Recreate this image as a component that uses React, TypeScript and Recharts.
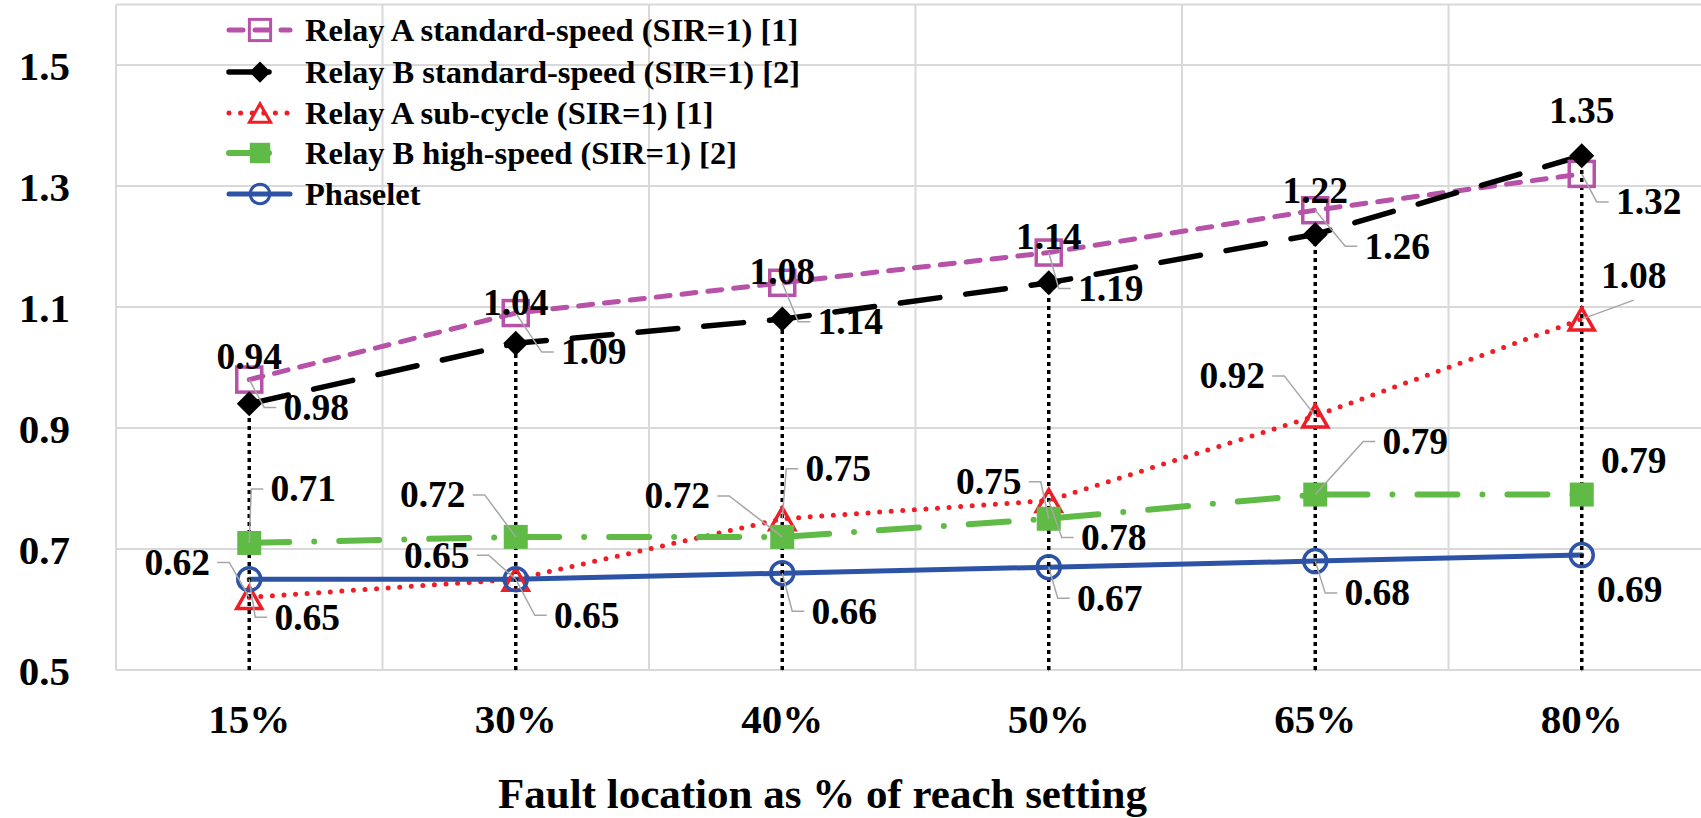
import React from "react";
import {
  CartesianGrid,
  ErrorBar,
  LabelList,
  Legend,
  Line,
  LineChart,
  XAxis,
  YAxis,
} from "recharts";

const categories = ["15%", "30%", "40%", "50%", "65%", "80%"];
const relayAStandard = [0.98, 1.09, 1.14, 1.19, 1.26, 1.32];
const relayBStandard = [0.94, 1.04, 1.08, 1.14, 1.22, 1.35];
const relayASubCycle = [0.62, 0.65, 0.75, 0.78, 0.92, 1.08];
const relayBHighSpeed = [0.71, 0.72, 0.72, 0.75, 0.79, 0.79];
const phaselet = [0.65, 0.65, 0.66, 0.67, 0.68, 0.69];
const yTicks = [0.5, 0.7, 0.9, 1.1, 1.3, 1.5];
const yMin = 0.5;
const yMax = 1.6;
const xTitle = "Fault location as % of reach setting";

// label placement: [dx, dy, leader] relative to the point ('s' = side leader, 'u' = leader under label)
type Off = [number, number, string];
const aStdLabels: Off[] = [[67, 28, "s"], [78, 39, "s"], [68, 39, "s"], [62, 36, "s"], [82, 36, "s"], [67, 28, "s"]];
const bStdLabels: Off[] = [[0, -47, ""], [0, -41, ""], [0, -47, ""], [0, -46, ""], [0, -44, ""], [0, -45, ""]];
const aSubLabels: Off[] = [[-72, -35, "s"], [-79, -24, "s"], [56, -50, "s"], [65, 37, "s"], [-83, -40, "s"], [52, -43, "u"]];
const bHighLabels: Off[] = [[54, -54, "s"], [-83, -42, "s"], [-105, -41, "s"], [-60, -37, "s"], [100, -53, "s"], [52, -34, ""]];
const phaseletLabels: Off[] = [[58, 38, "s"], [71, 36, "s"], [62, 38, "s"], [61, 31, "s"], [62, 32, "s"], [48, 35, ""]];

const FONT = '"Liberation Serif", "Times New Roman", serif';

const data = categories.map((c, i) => ({
  pos: i + 0.5,
  category: c,
  aStd: relayAStandard[i],
  bStd: relayBStandard[i],
  aSub: relayASubCycle[i],
  bHigh: relayBHighSpeed[i],
  phaselet: phaselet[i],
  drop: [relayBStandard[i] - yMin, 0],
}));

const series = {
  aStd: { name: "Relay A standard-speed (SIR=1) [1]", color: "#B652A7", width: 5, dash: "14 12", marker: "square", labels: aStdLabels },
  bStd: { name: "Relay B standard-speed (SIR=1) [2]", color: "#000000", width: 5.5, dash: "40 26", marker: "diamond", labels: bStdLabels },
  aSub: { name: "Relay A sub-cycle (SIR=1) [1]", color: "#EE1D26", width: 5, dash: "0 11.6", marker: "triangle", labels: aSubLabels },
  bHigh: { name: "Relay B high-speed (SIR=1) [2]", color: "#5FBA46", width: 6, dash: "40 25 0 25", marker: "filledSquare", labels: bHighLabels },
  phaselet: { name: "Phaselet", color: "#2C53A5", width: 5, dash: undefined, marker: "circle", labels: phaseletLabels },
};
const legendOrder = ["aStd", "bStd", "aSub", "bHigh", "phaselet"] as const;
const drawOrder = ["aStd", "aSub", "bHigh", "phaselet", "bStd"] as const;

function Marker({ kind, cx, cy, color, s = 1 }: any) {
  if (kind === "square") {
    const h = 12.5 * s;
    return <rect x={cx - h} y={cy - h} width={2 * h} height={2 * h} fill="none" stroke={color} strokeWidth={3.5 * s} />;
  }
  if (kind === "diamond") {
    const d = 12.5 * s;
    return <polygon points={`${cx},${cy - d} ${cx + d},${cy} ${cx},${cy + d} ${cx - d},${cy}`} fill={color} />;
  }
  if (kind === "triangle") {
    const w = 12.5 * s;
    return (
      <polygon
        points={`${cx},${cy - 11 * s} ${cx + w},${cy + 11 * s} ${cx - w},${cy + 11 * s}`}
        fill="none"
        stroke={color}
        strokeWidth={3.5 * s}
      />
    );
  }
  if (kind === "filledSquare") {
    const h = 12 * s;
    return <rect x={cx - h} y={cy - h} width={2 * h} height={2 * h} fill={color} />;
  }
  return <circle cx={cx} cy={cy} r={11.5 * s} fill="none" stroke={color} strokeWidth={3.5 * s} />;
}

function makeLabel(offsets: Off[]) {
  return (props: any) => {
    const { index, value } = props;
    const cx = props.x ?? props.viewBox?.x;
    const cy = props.y ?? props.viewBox?.y;
    const [dx, dy, leader] = offsets[index];
    const lx = cx + dx;
    const ly = cy + dy;
    let path = "";
    if (leader === "s") {
      const side = dx >= 0 ? -1 : 1;
      const endX = lx + side * 40;
      const elbowX = endX + side * 12;
      path = `M${cx},${cy} L${elbowX},${ly} L${endX},${ly}`;
    } else if (leader === "u") {
      path = `M${cx},${cy} L${lx},${ly + 24}`;
    }
    return (
      <g>
        {path && <path d={path} stroke="#A6A6A6" strokeWidth={1.5} fill="none" />}
        <text
          x={lx}
          y={ly}
          dy="0.33em"
          textAnchor="middle"
          fontFamily={FONT}
          fontWeight="bold"
          fontSize={37.5}
          fill="#000"
        >
          {Number(value).toFixed(2)}
        </text>
      </g>
    );
  };
}

function LegendBox() {
  const rows = [30, 72, 113, 153, 194];
  return (
    <svg width={860} height={220} style={{ display: "block" }}>
      {legendOrder.map((k, i) => {
        const s = series[k];
        const y = rows[i];
        return (
          <g key={k}>
            <line
              x1={229}
              x2={290}
              y1={y}
              y2={y}
              stroke={s.color}
              strokeWidth={s.width}
              strokeDasharray={s.dash}
              strokeLinecap="round"
            />
            <Marker kind={s.marker} cx={260} cy={y} color={s.color} s={0.85} />
            <text x={305} y={y} dy="0.33em" fontFamily={FONT} fontWeight="bold" fontSize={32.5} fill="#000">
              {s.name}
            </text>
          </g>
        );
      })}
    </svg>
  );
}

function AxisTitle(props: any) {
  const vb = props.viewBox;
  return (
    <text
      x={vb.x + vb.width / 2 - 93}
      y={vb.y + 138}
      textAnchor="middle"
      fontFamily={FONT}
      fontWeight="bold"
      fontSize={43}
      fill="#000"
    >
      {xTitle}
    </text>
  );
}

export default function App() {
  const xTicks = categories.map((_, i) => i + 0.5);
  const gridX = categories.map((_, i) => i).concat(categories.length);
  return (
    <div style={{ position: "absolute", left: 0, top: 0, width: 1701, height: 818, overflow: "hidden", background: "#fff" }}>
      <LineChart width={1730} height={818} data={data} margin={{ top: 4.5, right: 15, left: 0, bottom: 0 }}>
        <CartesianGrid stroke="#D9D9D9" strokeWidth={2} verticalValues={gridX} />
        <XAxis
          type="number"
          dataKey="pos"
          domain={[0, categories.length]}
          ticks={xTicks}
          interval={0}
          allowDataOverflow
          height={148}
          axisLine={false}
          tickLine={false}
          tickSize={0}
          tickMargin={34}
          tickFormatter={(v: number) => categories[Math.floor(v)]}
          tick={{ fontSize: 41, fontWeight: "bold", fill: "#000", fontFamily: FONT }}
          label={{ content: AxisTitle }}
        />
        <YAxis
          type="number"
          domain={[yMin, yMax]}
          ticks={yTicks}
          interval={0}
          allowDataOverflow
          width={116}
          axisLine={false}
          tickLine={false}
          tickSize={0}
          tickMargin={46}
          tickFormatter={(v: number) => v.toFixed(1)}
          tick={{ fontSize: 41, fontWeight: "bold", fill: "#000", fontFamily: FONT }}
        />
        <Legend
          layout="vertical"
          align="center"
          verticalAlign="middle"
          wrapperStyle={{ left: 0, top: 0 }}
          content={() => <LegendBox />}
        />
        {drawOrder.map((k) => {
          const s = series[k];
          return (
            <Line
              key={k}
              type="linear"
              dataKey={k}
              name={s.name}
              stroke={s.color}
              strokeWidth={s.width}
              strokeDasharray={s.dash}
              strokeLinecap="round"
              isAnimationActive={false}
              activeDot={false}
              dot={(p: any) => <Marker key={`${k}-${p.index}`} kind={s.marker} cx={p.cx} cy={p.cy} color={s.color} />}
            >
              {k === "bStd" && (
                <ErrorBar
                  dataKey="drop"
                  direction="y"
                  width={0}
                  stroke="#000"
                  strokeWidth={3.5}
                  strokeDasharray="4 4"
                  isAnimationActive={false}
                />
              )}
              <LabelList dataKey={k} content={makeLabel(s.labels)} />
            </Line>
          );
        })}
      </LineChart>
    </div>
  );
}
